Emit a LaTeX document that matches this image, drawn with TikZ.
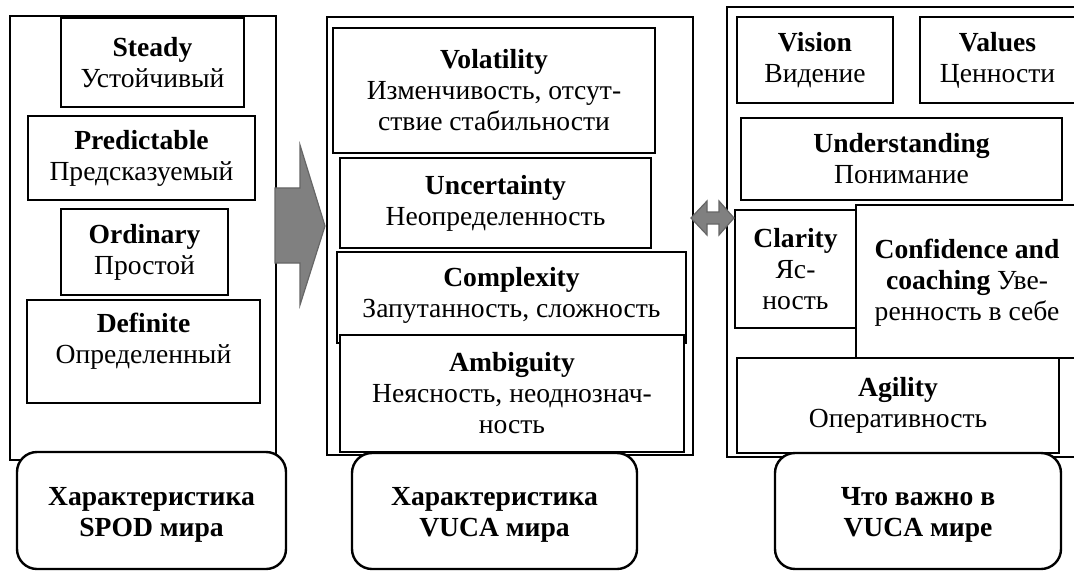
\documentclass[tikz,border=0pt]{standalone}
\usepackage{fontspec}
\setmainfont{Liberation Serif}
\usepackage{tikz}
\usetikzlibrary{fit}

\begin{document}
\begin{tikzpicture}[x=0.5pt,y=-0.5pt,
  panel/.style={draw,line width=1pt,inner sep=0pt},
  box/.style={draw,fill=white,line width=1.2pt,inner sep=0pt},
  capbox/.style={draw,fill=white,line width=1.2pt,rounded corners=10pt,inner sep=0pt},
  txt/.style={align=center,font=\fontsize{13.8}{15.5}\selectfont},
  bigarr/.style={fill=black!50,draw=black!60,line width=0.6pt}]
\clip (0,0) rectangle (1074,572);
\fill[white] (0,0) rectangle (1074,572);
% SPOD
\node[panel,fit={(10,16) (276,460)}] (pnSpod) {};
\node[box,fit={(61,18) (244,107)}] (bxSteady) {};
\node[box,fit={(28,116) (255,200)}] (bxPred) {};
\node[box,fit={(61,209) (228,295)}] (bxOrd) {};
\node[box,fit={(27,300) (260,403)}] (bxDef) {};
\node[txt] at (bxSteady) {\textbf{Steady}\\Устойчивый};
\node[txt] at (bxPred) {\textbf{Predictable}\\Предсказуемый};
\node[txt] at (bxOrd) {\textbf{Ordinary}\\Простой};
\node[txt,yshift=5pt] at (bxDef) {\textbf{Definite}\\Определенный};
\node[capbox,fit={(17,452) (286,569)}] (capSpod) {};
\node[txt,yshift=-2pt] at (capSpod) {\textbf{Характеристика}\\\textbf{SPOD мира}};
% VUCA
\node[panel,fit={(327,17) (693,455)}] (pnVuca) {};
\node[box,fit={(333,28) (655,153)}] (bxVol) {};
\node[box,fit={(340,158) (651,248)}] (bxUnc) {};
\node[box,fit={(337,252) (686,343)}] (bxCom) {};
\node[box,fit={(340,335) (684,452)}] (bxAmb) {};
\node[txt] at (bxVol) {\textbf{Volatility}\\Изменчивость, отсут-\\ствие стабильности};
\node[txt] at (bxUnc) {\textbf{Uncertainty}\\Неопределенность};
\node[txt,yshift=1pt] at (bxCom) {\textbf{Complexity}\\Запутанность, сложность};
\node[txt] at (bxAmb) {\textbf{Ambiguity}\\Неясность, неоднознач-\\ность};
\node[capbox,fit={(352,453) (637,569)}] (capVuca) {};
\node[txt,yshift=-2pt] at (capVuca) {\textbf{Характеристика}\\\textbf{VUCA мира}};
% what matters
\node[panel,fit={(727,7) (1080,457)}] (pnWhat) {};
\node[box,fit={(737,17) (893,103)}] (bxVis) {};
\node[box,fit={(920,17) (1075,103)}] (bxVal) {};
\node[box,fit={(741,118) (1062,200)}] (bxUnd) {};
\node[box,fit={(735,210) (856,328)}] (bxCla) {};
\node[box,fit={(856,205) (1080,358)}] (bxCon) {};
\node[box,fit={(737,358) (1059,453)}] (bxAgi) {};
\node[txt] at (bxVis) {\textbf{Vision}\\Видение};
\node[txt] at (bxVal) {\textbf{Values}\\Ценности};
\node[txt] at (bxUnd) {\textbf{Understanding}\\Понимание};
\node[txt] at (bxCla) {\textbf{Clarity}\\Яс-\\ность};
\node[txt] at (967,283) {\textbf{Confidence and}\\\textbf{coaching} Уве-\\ренность в себе};
\node[txt] at (bxAgi) {\textbf{Agility}\\Оперативность};
\node[capbox,fit={(775,453) (1061,569)}] (capWhat) {};
\node[txt,yshift=-2pt] at (capWhat) {\textbf{Что важно в}\\\textbf{VUCA мире}};
% arrows
\filldraw[bigarr] (275,188) -- (300,188) -- (300,145) -- (325,226) -- (300,305)
  -- (300,263) -- (275,263) -- cycle;
\filldraw[bigarr] (691,218) -- (707,201) -- (707,212) -- (719,212) -- (719,201)
  -- (734,218) -- (719,235) -- (719,224) -- (707,224) -- (707,235) -- cycle;
\end{tikzpicture}
\end{document}
